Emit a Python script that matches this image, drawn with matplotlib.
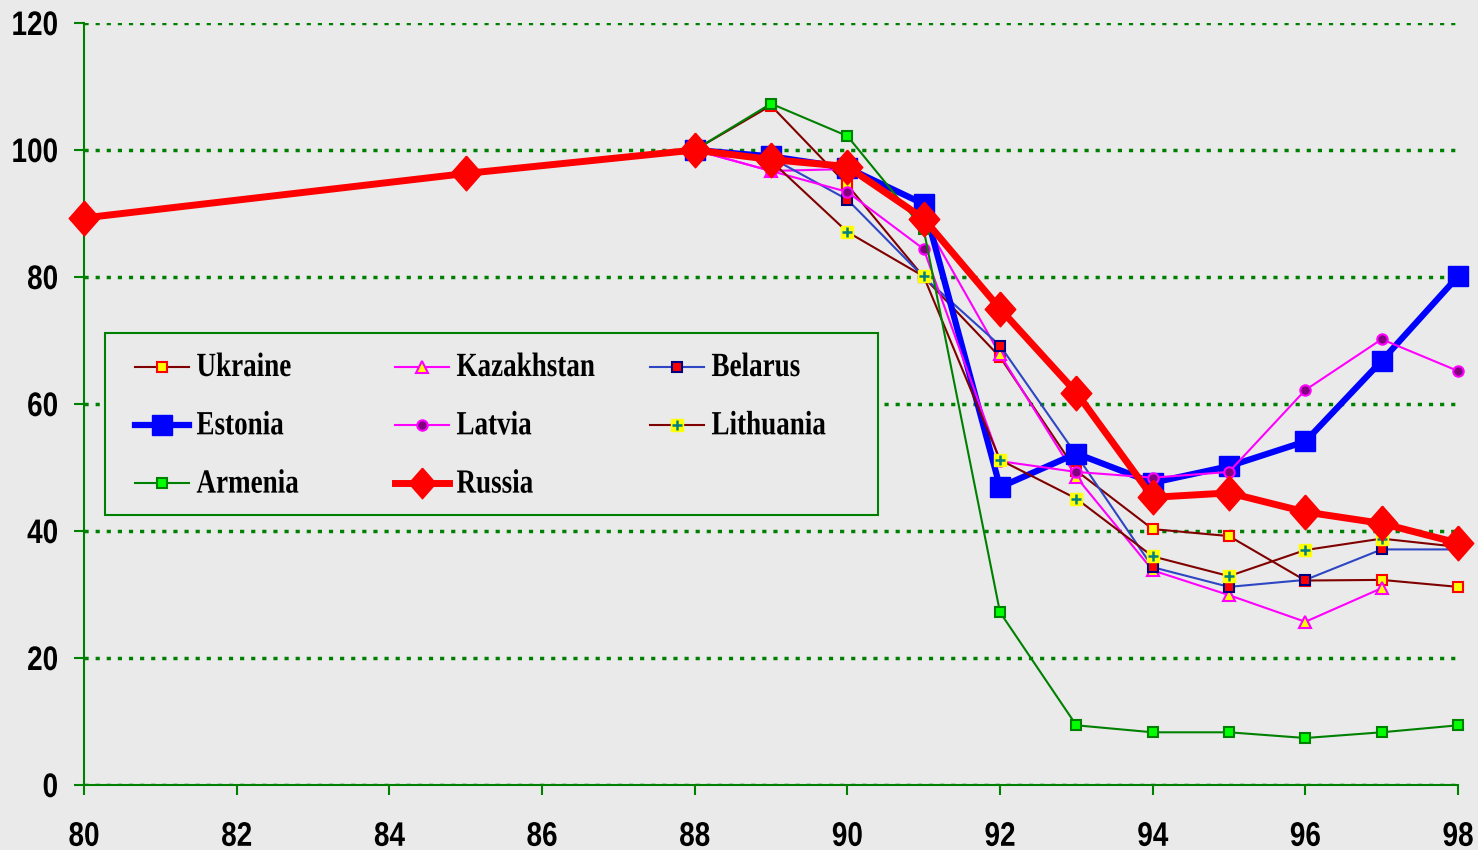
import numpy as np
import matplotlib
matplotlib.use("Agg")
import matplotlib.pyplot as plt
from matplotlib.lines import Line2D
from matplotlib.patches import Rectangle
from matplotlib.patheffects import AbstractPathEffect
from matplotlib.transforms import Affine2D
from matplotlib.legend_handler import HandlerTuple

# index, 1988 = 100
years = [88, 89, 90, 91, 92, 93, 94, 95, 96, 97, 98]
years_kaz = [88, 89, 90, 91, 92, 93, 94, 95, 96, 97]
years_rus = [80, 85, 88, 89, 90, 91, 92, 93, 94, 95, 96, 97, 98]

ukraine = [100, 107, 94.5, 80, 67.4, 49.5, 40.3, 39.2, 32.2, 32.3, 31.2]
kazakhstan = [100, 96.7, 97, 89, 67.8, 48.5, 33.8, 29.9, 25.7, 31.0]
belarus = [100, 98.8, 92.2, 80, 69.2, 52, 34.3, 31.2, 32.3, 37.1, 37.1]
estonia = [100, 99, 97.2, 91.5, 46.9, 52.2, 47.6, 50.2, 54.1, 66.8, 80.1]
latvia = [100, 96.7, 93.4, 84.4, 51, 49.3, 48.4, 49.3, 62.2, 70.2, 65.2]
lithuania = [100, 98.3, 87.1, 80.1, 51.2, 45.1, 36.0, 32.9, 37.0, 38.8, 37.5]
armenia = [100, 107.3, 102.2, 87.5, 27.2, 9.4, 8.3, 8.3, 7.4, 8.3, 9.4]
russia = [89.3, 96.3, 100, 98.5, 97.4, 89.2, 75, 61.8, 45.3, 46.0, 43, 41.2, 38.1]

xticks = list(range(80, 99, 2))
yticks = list(range(0, 121, 20))

BG = "#eaeaea"
GREEN = "#008000"


class Stretch(AbstractPathEffect):
    """Scale glyph outlines, keeping the left edge, centre or right edge fixed."""

    def __init__(self, sx=1.0, sy=1.0, anchor="left"):
        super().__init__()
        self.sx, self.sy, self.anchor = sx, sy, anchor

    def draw_path(self, renderer, gc, tpath, affine, rgbFace=None):
        ext = tpath.get_extents()
        x0 = {"left": 0.0, "center": (ext.x0 + ext.x1) / 2, "right": ext.x1}[self.anchor]
        tr = Affine2D().translate(-x0, 0).scale(self.sx, self.sy).translate(x0, 0)
        renderer.draw_path(gc, tpath, tr + affine, rgbFace)


fig = plt.figure(figsize=(14.78, 8.5), dpi=100, facecolor=BG)
ax = fig.add_axes([84 / 1478, 65 / 850, 1374 / 1478, 762 / 850], facecolor=BG)

thin = 1.5
kw = dict(clip_on=False)
l_ukr, = ax.plot(years, ukraine, color="#800000", lw=thin, marker="s", ms=7.5,
                 mfc="#ffff00", mec="#ff0000", mew=1.5, zorder=3, **kw)
l_kaz, = ax.plot(years_kaz, kazakhstan, color="#ff00ff", lw=thin, marker="^", ms=9,
                 mfc="#ffff00", mec="#ff00ff", mew=1.5, zorder=3.1, **kw)
l_bel, = ax.plot(years, belarus, color="#2e46c4", lw=thin, marker="s", ms=7.5,
                 mfc="#ff0000", mec="#000080", mew=1.5, zorder=3.2, **kw)
l_est, = ax.plot(years, estonia, color="#0000ff", lw=4.5, marker="s", ms=15,
                 mfc="#0000ff", mec="#0000ff", zorder=3.3, **kw)
l_lat, = ax.plot(years, latvia, color="#ff00ff", lw=thin, marker="o", ms=7.5,
                 mfc="#800080", mec="#ff00ff", mew=1.5, zorder=3.4, **kw)
l_lit, = ax.plot(years, lithuania, color="#800000", lw=thin, marker="s", ms=9,
                 mfc="#ffff00", mec="#ffff00", zorder=3.5, **kw)
p_lit, = ax.plot(years, lithuania, ls="none", marker="+", ms=7, mew=1.8,
                 color="#008080", zorder=3.51, **kw)
l_arm, = ax.plot(years, armenia, color=GREEN, lw=thin, marker="s", ms=7.5,
                 mfc="#00ff00", mec=GREEN, mew=1.5, zorder=3.6, **kw)
diamond = [(0, 1), (0.88, 0), (0, -1), (-0.88, 0), (0, 1)]
l_rus, = ax.plot(years_rus, russia, color="#ff0000", lw=5, marker=diamond, ms=25,
                 mfc="#ff0000", mec="#ff0000", zorder=4, **kw)

ax.set_xlim(80, 98)
ax.set_ylim(0, 120)
ax.set_xticks(xticks)
ax.set_yticks(yticks)
ax.set_xticklabels([str(t) for t in xticks])
ax.set_yticklabels([str(t) for t in yticks])

for s in ["top", "right"]:
    ax.spines[s].set_visible(False)
for s in ["left", "bottom"]:
    ax.spines[s].set_color(GREEN)
    ax.spines[s].set_linewidth(1.5)

ax.tick_params(axis="both", direction="out", length=7.5, width=1.5, color=GREEN)
ax.tick_params(axis="x", pad=19)
ax.tick_params(axis="y", pad=11)
for lab in ax.get_xticklabels():
    lab.set_family("Liberation Sans")
    lab.set_fontweight("bold")
    lab.set_fontsize(24.5)
    lab.set_path_effects([Stretch(0.82, 1.0, "center")])
for lab in ax.get_yticklabels():
    lab.set_family("Liberation Sans")
    lab.set_fontweight("bold")
    lab.set_fontsize(24.5)
    lab.set_path_effects([Stretch(0.82, 1.0, "right")])

ax.yaxis.grid(True, color=GREEN, linestyle=(0, (1.2, 2.0)), linewidth=2.5)
ax.set_axisbelow(True)

# legend frame and three columns
fig.patches.append(Rectangle((105 / 1478, 1 - 515 / 850), 773 / 1478, 182 / 850,
                             transform=fig.transFigure, facecolor=BG,
                             edgecolor=GREEN, lw=1.5, zorder=5))
columns = [
    ([l_ukr, l_est, l_arm], ["Ukraine", "Estonia", "Armenia"], 135),
    ([l_kaz, l_lat, l_rus], ["Kazakhstan", "Latvia", "Russia"], 395),
    ([l_bel, (l_lit, p_lit)], ["Belarus", "Lithuania"], 650),
]
legends = []
for handles, labels, xpx in columns:
    leg = fig.legend(handles, labels, loc="upper left",
                     bbox_to_anchor=(xpx / 1478, 1 - 357 / 850),
                     frameon=False, borderpad=0, borderaxespad=0,
                     handlelength=2.0, handletextpad=0.27, labelspacing=1.23,
                     numpoints=1, markerscale=1.0,
                     handler_map={tuple: HandlerTuple(ndivide=1)},
                     prop=dict(family="Liberation Serif", weight="bold", size=19.5))
    leg.set_zorder(6)
    for t in leg.get_texts():
        t.set_path_effects([Stretch(1.0, 1.25)])
    legends.append(leg)

# legend diamond a little smaller than on the chart
for leg in legends:
    for h in leg.legend_handles:
        if isinstance(h, Line2D) and h.get_markersize() > 20:
            h.set_markersize(22)

fig.savefig("out.png", dpi=100, facecolor=BG)
